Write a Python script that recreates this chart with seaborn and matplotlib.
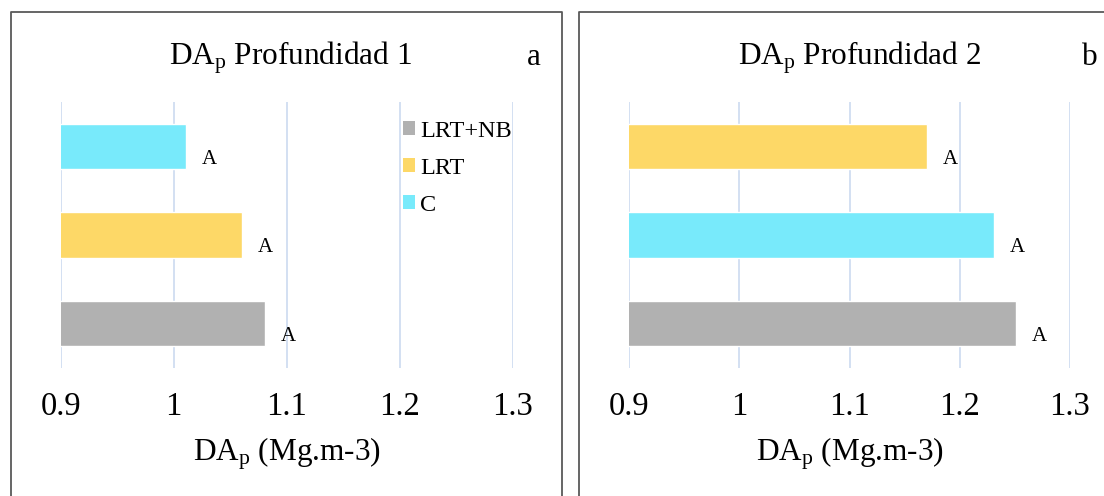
import pandas as pd
import seaborn as sns
import matplotlib.pyplot as plt
from matplotlib.patches import Patch
from matplotlib.lines import Line2D

# Data
treat_1 = ["C", "LRT", "LRT+NB"]          # top to bottom, panel a
dap_1 = [1.011, 1.060, 1.081]
treat_2 = ["LRT", "C", "LRT+NB"]          # top to bottom, panel b
dap_2 = [1.170, 1.231, 1.251]
letters_1 = ["A", "A", "A"]
letters_2 = ["A", "A", "A"]
legend_order = ["LRT+NB", "LRT", "C"]
x_ticks = [0.9, 1.0, 1.1, 1.2, 1.3]
x_ticklabels = ["0.9", "1", "1.1", "1.2", "1.3"]
titles = ["Profundidad 1", "Profundidad 2"]
panel_tags = ["a", "b"]

colors = {"C": "#78EAFB", "LRT": "#FDD867", "LRT+NB": "#B1B1B1"}

sns.set_style("white")
plt.rcParams["font.family"] = ["Liberation Serif", "DejaVu Serif"]
plt.rcParams["mathtext.fontset"] = "custom"
plt.rcParams["mathtext.rm"] = "Liberation Serif"
plt.rcParams["mathtext.it"] = "Liberation Serif:italic"
plt.rcParams["text.color"] = "black"
plt.rcParams["axes.labelcolor"] = "black"
plt.rcParams["xtick.color"] = "black"

W, H = 1104, 496
fig = plt.figure(figsize=(W / 100, H / 100), dpi=100)


def px(x0, y0, x1, y1):
    # pixel box (top-left origin) -> figure fraction rect
    return [x0 / W, 1 - y1 / H, (x1 - x0) / W, (y1 - y0) / H]


ax1 = fig.add_axes(px(60.7, 102, 512.7, 368))
ax2 = fig.add_axes(px(629, 102, 1070, 368))

panels = [
    (ax1, treat_1, dap_1, letters_1, 290, 534),
    (ax2, treat_2, dap_2, letters_2, 860, 1090),
]

for i, (ax, treats, vals, letters, tx, tagx) in enumerate(panels):
    df = pd.DataFrame({"trat": treats, "dap": vals})
    sns.barplot(data=df, x="dap", y="trat", hue="trat", order=treats,
                palette=colors, orient="h", width=0.51, legend=False,
                saturation=1, ax=ax, zorder=2)
    ax.set_xlim(0.9, 1.3)
    ax.set_ylim(2.5, -0.5)
    ax.set_xticks(x_ticks)
    ax.set_xticklabels(x_ticklabels)
    ax.set_yticks([])
    ax.set_ylabel("")
    ax.grid(axis="x", color="#D3E0F2", linewidth=1.4, zorder=0)
    ax.grid(axis="y", visible=False)
    ax.set_axisbelow(True)
    for s in ax.spines.values():
        s.set_visible(False)
    ax.tick_params(axis="x", length=0, labelsize=23.5, pad=17)
    ax.set_xlabel(r"DA$_\mathregular{p}$ (Mg.m-3)", fontsize=22.5)
    ax.xaxis.set_label_coords(0.5, -0.255)

    for j, (v, lab) in enumerate(zip(vals, letters)):
        ax.annotate(lab, xy=(v, j + 0.145), xytext=(11.5, 0),
                    textcoords="offset points", va="center", ha="left",
                    fontsize=15)

    fig.text(tx / W, 1 - 65 / H, r"DA$_\mathregular{p}$ " + titles[i],
             ha="center", va="baseline", fontsize=22.5)
    fig.text(tagx / W, 1 - 65 / H, panel_tags[i], ha="center",
             va="baseline", fontsize=22.5)

# legend in panel a
handles = [Patch(facecolor=colors[t], edgecolor="none", label=t) for t in legend_order]
ax1.legend(handles=handles, loc="upper left", bbox_to_anchor=(403 / W, 1 - 121 / H),
           bbox_transform=fig.transFigure, frameon=False, fontsize=17.5,
           handlelength=0.5, handleheight=0.5, handletextpad=0.2,
           labelspacing=0.65, borderpad=0, borderaxespad=0)

# panel frames
frame = dict(color="#595959", linewidth=1.3, transform=fig.transFigure)
fig.add_artist(Line2D([11 / W, 11 / W, 562 / W, 562 / W],
                      [0, 1 - 12 / H, 1 - 12 / H, 0], **frame))
fig.add_artist(Line2D([579 / W, 579 / W, 1 + 0.01],
                      [0, 1 - 12 / H, 1 - 12 / H], **frame))

fig.savefig("out.png", dpi=100)
